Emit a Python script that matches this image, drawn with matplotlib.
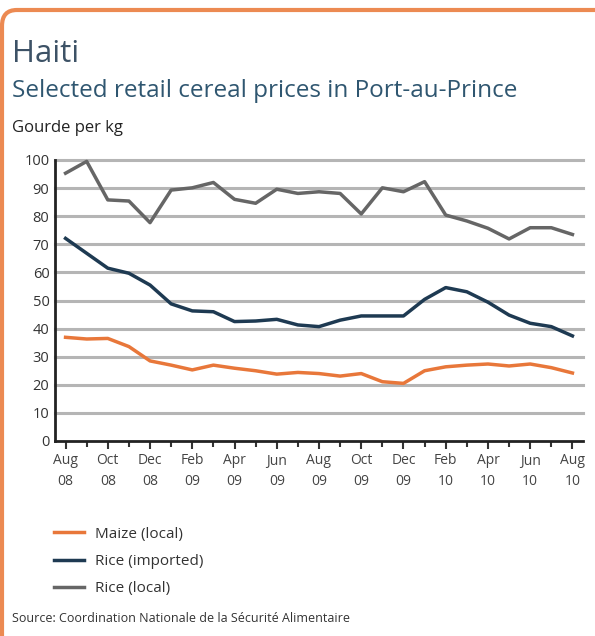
import matplotlib
matplotlib.use("Agg")
import matplotlib.pyplot as plt
from matplotlib.patches import FancyBboxPatch
from matplotlib.lines import Line2D
import numpy as np

months = ["Aug\n08", "Sep\n08", "Oct\n08", "Nov\n08", "Dec\n08", "Jan\n09", "Feb\n09", "Mar\n09",
          "Apr\n09", "May\n09", "Jun\n09", "Jul\n09", "Aug\n09", "Sep\n09", "Oct\n09", "Nov\n09",
          "Dec\n09", "Jan\n10", "Feb\n10", "Mar\n10", "Apr\n10", "May\n10", "Jun\n10", "Jul\n10",
          "Aug\n10"]

maize_local = [36.9, 36.3, 36.5, 33.6, 28.5, 27.0, 25.3, 27.0, 25.9, 25.0, 23.8, 24.4,
               24.0, 23.1, 24.0, 21.1, 20.5, 25.0, 26.4, 27.0, 27.4, 26.7, 27.4, 26.1, 24.2]
rice_imported = [72.1, 66.8, 61.5, 59.7, 55.5, 48.8, 46.3, 46.0, 42.5, 42.7, 43.3, 41.3,
                 40.7, 43.0, 44.5, 44.5, 44.5, 50.4, 54.6, 53.1, 49.4, 44.8, 41.9, 40.7, 37.4]
rice_local = [95.3, 99.5, 85.8, 85.4, 77.7, 89.3, 90.1, 92.0, 86.0, 84.6, 89.6, 88.1,
              88.7, 88.1, 80.8, 90.1, 88.7, 92.3, 80.4, 78.3, 75.7, 71.9, 75.9, 75.9, 73.5]

series_names = ["Maize (local)", "Rice (imported)", "Rice (local)"]
series_colors = ["#e8773a", "#1e3a52", "#666666"]
yticks = [0, 10, 20, 30, 40, 50, 60, 70, 80, 90, 100]

plt.rcParams['font.family'] = ['Open Sans', 'DejaVu Sans']

W, H = 595, 636
fig = plt.figure(figsize=(W / 100, H / 100), dpi=100)
fig.patch.set_facecolor("white")

# rounded orange frame (only top and left edges visible)
frame = FancyBboxPatch((2 / W, -30 / H), (W + 40) / W, (H + 20) / H,
                       boxstyle="round,pad=0,rounding_size=0.025",
                       transform=fig.transFigure, facecolor="none",
                       edgecolor="#ec8a52", linewidth=3, zorder=-5)
fig.patches.append(frame)

ax = fig.add_axes([55 / W, 1 - 441 / H, (583 - 55) / W, (441 - 160) / H])
ax.set_zorder(2)
x = np.arange(len(months))

for vals, col in zip([maize_local, rice_imported, rice_local], series_colors):
    ax.plot(x, vals, color=col, lw=2.5, solid_joinstyle="round", zorder=3, clip_on=False)

ax.set_xlim(-0.5, len(months) - 0.5)
ax.set_ylim(0, 100)
ax.set_yticks(yticks)
ax.set_yticklabels([str(v) for v in yticks])
for v in yticks[1:]:
    ax.axhline(v, color="#b5b5b5", lw=2.2, zorder=1, clip_on=False)

ax.set_xticks(x[::2])
ax.set_xticklabels(months[::2], linespacing=1.5)
ax.set_xticks(x, minor=True)
ax.tick_params(axis="x", which="major", length=6, width=1.5, color="#333333",
               labelsize=10, labelcolor="#444444", pad=3)
ax.tick_params(axis="x", which="minor", length=4, width=1.5, color="#333333")
ax.tick_params(axis="y", length=0, labelsize=10.5, labelcolor="#333333", pad=4)
for s in ["top", "right"]:
    ax.spines[s].set_visible(False)
for s in ["left", "bottom"]:
    ax.spines[s].set_linewidth(2)
    ax.spines[s].set_color("#222222")
    ax.spines[s].set_zorder(4)
ax.patch.set_alpha(0)

fig.text(12 / W, 1 - 62 / H, "Haiti", fontsize=22.5, color="#3d5266", va="baseline")
fig.text(12 / W, 1 - 97 / H, "Selected retail cereal prices in Port-au-Prince",
         fontsize=17.5, color="#2f5670", va="baseline")
fig.text(12 / W, 1 - 132 / H, "Gourde per kg", fontsize=12, color="#222222", va="baseline")

handles = [Line2D([], [], color=c, lw=2.5) for c in series_colors]
fig.legend(handles, series_names, loc="upper left",
           bbox_to_anchor=(40 / W, 1 - 513 / H), frameon=False, fontsize=11,
           handlelength=2.0, handletextpad=0.7, labelspacing=0.8,
           labelcolor="#333333")

fig.text(12 / W, 1 - 622 / H, "Source: Coordination Nationale de la Sécurité Alimentaire",
         fontsize=9, color="#333333", va="baseline")

fig.savefig("out.png", dpi=100)
